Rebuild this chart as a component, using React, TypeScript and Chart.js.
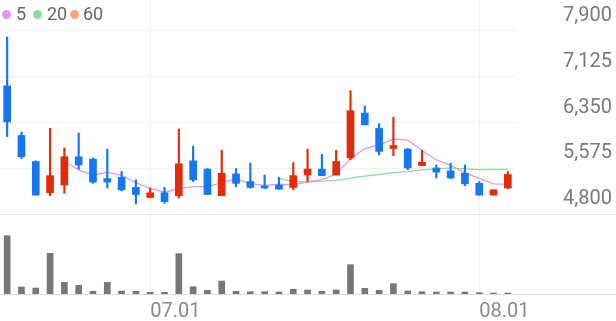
import React, { useEffect, useRef } from 'react';
import { Chart, registerables } from 'chart.js';

Chart.register(...registerables);
Chart.defaults.font.family = 'Roboto';

const dates = [
  '06.17', '06.18', '06.19', '06.20', '06.21', '06.24', '06.25', '06.26', '06.27', '06.28',
  '07.01', '07.02', '07.03', '07.04', '07.05', '07.08', '07.09', '07.10', '07.11', '07.12',
  '07.15', '07.16', '07.17', '07.18', '07.19', '07.22', '07.23', '07.24', '07.25', '07.26',
  '07.29', '07.30', '07.31', '08.01', '08.02', '08.05',
];
const opens = [
  6970, 6130, 5690, 5160, 5290, 5770, 5730, 5400, 5420, 5250,
  5080, 5160, 5110, 5700, 5560, 5110, 5480, 5350, 5270, 5290,
  5250, 5460, 5560, 5460, 5750, 6510, 6250, 5910, 5900, 5620,
  5580, 5530, 5490, 5320, 5120, 5240,
];
const highs = [
  7800, 6190, 5700, 6250, 5920, 6170, 5750, 5900, 5520, 5380,
  5240, 5250, 6240, 5950, 5570, 5880, 5570, 5660, 5460, 5420,
  5670, 5900, 5810, 5880, 6890, 6630, 6330, 6440, 5910, 5880,
  5630, 5660, 5630, 5350, 5210, 5520,
];
const lows = [
  6110, 5740, 5120, 5110, 5150, 5560, 5320, 5240, 5190, 4970,
  5080, 4980, 5070, 5350, 5130, 5110, 5260, 5240, 5230, 5220,
  5210, 5350, 5450, 5460, 5720, 6310, 5800, 5790, 5550, 5620,
  5410, 5400, 5280, 5120, 5120, 5230,
];
const closes = [
  6360, 5770, 5120, 5450, 5770, 5630, 5340, 5340, 5210, 5130,
  5160, 5010, 5650, 5380, 5130, 5490, 5320, 5250, 5240, 5220,
  5450, 5560, 5450, 5690, 6550, 6310, 5860, 5960, 5580, 5680,
  5510, 5410, 5310, 5120, 5210, 5470,
];
const volumes = [
  583, 70, 60, 407, 117, 87, 27, 117, 30, 27,
  17, 17, 403, 73, 37, 130, 27, 23, 23, 20,
  47, 40, 27, 40, 293, 57, 37, 103, 30, 23,
  20, 20, 20, 13, 10, 10,
];
const ma5 = [
  null, null, null, null, 5694, 5548, 5461, 5504, 5455, 5329,
  5235, 5169, 5231, 5265, 5265, 5331, 5393, 5314, 5286, 5304,
  5296, 5343, 5383, 5473, 5737, 5909, 5969, 6070, 6050, 5876,
  5716, 5626, 5496, 5403, 5310, 5303,
];
const ma20 = [
  null, null, null, null, null, null, null, null, null, null,
  null, null, null, null, null, null, null, null, null, 5398,
  5352, 5342, 5358, 5370, 5409, 5443, 5469, 5500, 5518, 5546,
  5563, 5583, 5566, 5553, 5557, 5556,
];
const ma60: (number | null)[] = [];
const priceTicks = [4800, 5575, 6350, 7125, 7900];
const legendLabels = ['5', '20', '60'];
const legendColors = ['#d79bf0', '#8fdc9c', '#f8a47e'];

export default function App() {
  const ref = useRef<HTMLCanvasElement>(null);

  useEffect(() => {
    document.body.style.margin = '0';
    const up = '#e32a0a';
    const down = '#1677ee';
    const colors = closes.map((c, i) => (c >= opens[i] ? up : down));

    const separators = {
      id: 'separators',
      beforeDatasetsDraw(chart: any) {
        const { ctx, chartArea, width } = chart;
        const yLow = Math.round(chart.scales.y.getPixelForValue(priceTicks[0])) + 0.5;
        const yBase = Math.round(chartArea.bottom) + 0.5;
        ctx.save();
        ctx.lineWidth = 1;
        ctx.strokeStyle = '#e8e8e8';
        ctx.beginPath();
        ctx.moveTo(0, yLow);
        ctx.lineTo(width, yLow);
        ctx.stroke();
        ctx.strokeStyle = '#dcdcdc';
        ctx.beginPath();
        ctx.moveTo(0, yBase);
        ctx.lineTo(width, yBase);
        ctx.stroke();
        ctx.restore();
      },
    };

    const chart = new Chart(ref.current as HTMLCanvasElement, {
      type: 'bar',
      data: {
        labels: dates,
        datasets: [
          { type: 'line', label: 'MA5', data: ma5, borderColor: legendColors[0], borderWidth: 1.3, pointRadius: 0, yAxisID: 'y', order: 5 } as any,
          { type: 'line', label: 'MA20', data: ma20, borderColor: legendColors[1], borderWidth: 1.3, pointRadius: 0, yAxisID: 'y', order: 5 } as any,
          { type: 'line', label: 'MA60', data: ma60, borderColor: legendColors[2], borderWidth: 1.3, pointRadius: 0, yAxisID: 'y', order: 5 } as any,
          { label: 'wick', data: lows.map((l, i) => [l, highs[i]]), backgroundColor: colors, barThickness: 1.5, grouped: false, yAxisID: 'y', order: 2 } as any,
          { label: 'body', data: opens.map((o, i) => [o, closes[i]]), backgroundColor: colors, barThickness: 7, minBarLength: 2, grouped: false, yAxisID: 'y', order: 1 } as any,
          { label: 'volume', data: volumes, backgroundColor: '#777777', barThickness: 6, grouped: false, yAxisID: 'yv', order: 1 } as any,
        ],
      },
      options: {
        responsive: false,
        animation: false,
        devicePixelRatio: 1,
        layout: { padding: 0 },
        plugins: { legend: { display: false }, tooltip: { enabled: false } },
        scales: {
          x: {
            offset: true,
            grid: { offset: false, color: '#efefef', drawTicks: false },
            border: { display: false },
            ticks: { autoSkip: false, maxRotation: 0, align: 'start', padding: 6, color: '#8a8a8a', font: { size: 20 } },
            afterBuildTicks: (s: any) => {
              s.ticks = s.ticks.filter((t: any) => dates[t.value].endsWith('.01'));
            },
            afterFit: (s: any) => {
              s.height = 27;
              s.paddingLeft = 0;
              s.paddingRight = 0;
            },
          },
          y: {
            position: 'right',
            min: 3445,
            max: 8425,
            afterBuildTicks: (s: any) => {
              s.ticks = priceTicks.map((v) => ({ value: v }));
            },
            grid: { color: '#f1f1f1', drawTicks: false },
            border: { display: false },
            ticks: {
              padding: 48,
              labelOffset: -15,
              color: '#7a7a7a',
              font: { size: 20 },
              callback: (v: any) => Number(v).toLocaleString('en-US'),
            },
            afterFit: (s: any) => {
              s.width = 101;
              s.paddingTop = 0;
              s.paddingBottom = 0;
            },
          },
          yv: { display: false, min: 0, max: 2940 },
        },
      } as any,
      plugins: [separators],
    });
    return () => chart.destroy();
  }, []);

  const dotCenters = [6, 37, 74];
  const textLefts = [16, 47, 83];

  return (
    <div style={{ position: 'relative', width: 616, height: 321 }}>
      <canvas ref={ref} width={616} height={321} style={{ display: 'block' }} />
      {legendLabels.map((label, i) => (
        <React.Fragment key={label}>
          <span
            style={{
              position: 'absolute',
              left: dotCenters[i] - 4.5,
              top: 10,
              width: 9,
              height: 9,
              borderRadius: '50%',
              background: legendColors[i],
            }}
          />
          <span
            style={{
              position: 'absolute',
              left: textLefts[i],
              top: 5,
              fontFamily: 'Roboto',
              fontSize: 18,
              lineHeight: '18px',
              color: '#666666',
            }}
          >
            {label}
          </span>
        </React.Fragment>
      ))}
    </div>
  );
}
